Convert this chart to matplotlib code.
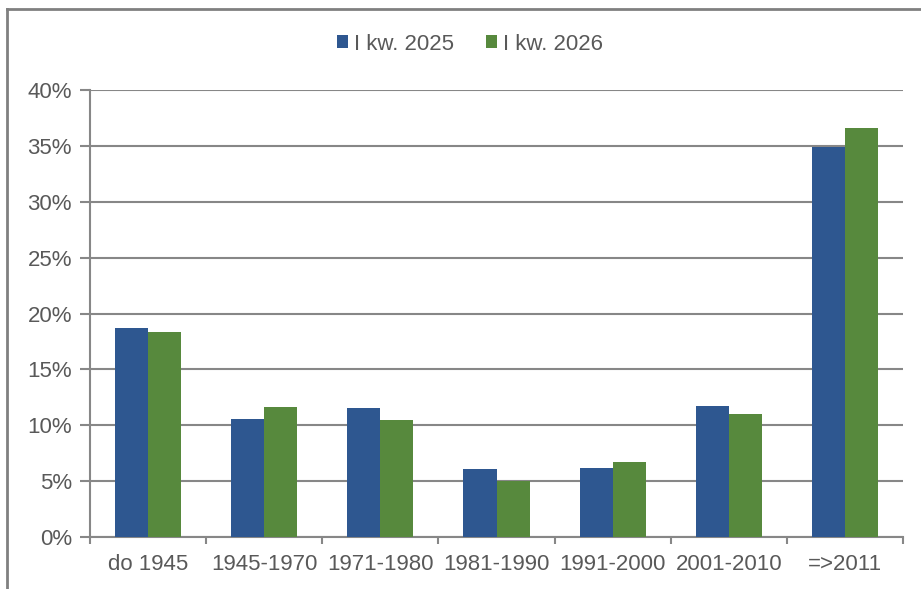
import numpy as np
import matplotlib.pyplot as plt
from matplotlib.lines import Line2D
from matplotlib.ticker import FuncFormatter, FixedLocator

plt.rcParams['font.family'] = ['Liberation Sans', 'DejaVu Sans']

categories = ['do 1945', '1945-1970', '1971-1980', '1981-1990', '1991-2000', '2001-2010', '=>2011']
q1_2025 = [18.7, 10.6, 11.5, 6.1, 6.2, 11.7, 34.9]
q1_2026 = [18.3, 11.6, 10.5, 5.0, 6.7, 11.0, 36.6]
series_names = ['I kw. 2025', 'I kw. 2026']

blue = '#2E5790'
green = '#57893D'
grey = '#878787'
text_col = '#595959'
fs = 16

fig = plt.figure(figsize=(9.21, 5.89), dpi=100)
ax = fig.add_axes([90 / 921, 1 - 537 / 589, (903 - 90) / 921, (537 - 90) / 589])

x = np.arange(len(categories))
w = 0.285
ax.bar(x - w / 2, q1_2025, w, color=blue, label=series_names[0], zorder=3)
ax.bar(x + w / 2, q1_2026, w, color=green, label=series_names[1], zorder=3)

ax.set_xlim(-0.5, len(categories) - 0.5)
ax.set_ylim(0, 40)
ax.set_yticks(np.arange(0, 41, 5))
ax.yaxis.set_major_formatter(FuncFormatter(lambda v, p: f'{v:.0f}%'))
ax.yaxis.grid(True, color=grey, linewidth=1.5, zorder=0)

# category labels at centres, tick marks at boundaries
ax.set_xticks(x)
ax.set_xticklabels(categories)
ax.xaxis.set_minor_locator(FixedLocator(np.arange(-0.5, len(categories), 1)))
ax.tick_params(axis='x', which='major', length=0, pad=12, labelsize=fs, labelcolor=text_col)
ax.tick_params(axis='x', which='minor', length=5, width=1.5, color=grey)
ax.tick_params(axis='y', length=7, width=1.5, color=grey, pad=6, labelsize=fs, labelcolor=text_col)

for s in ['top', 'right']:
    ax.spines[s].set_visible(False)
for s in ['left', 'bottom']:
    ax.spines[s].set_color(grey)
    ax.spines[s].set_linewidth(1.5)

leg = fig.legend(loc='center', bbox_to_anchor=(470 / 921, 1 - 44 / 589), ncol=2, frameon=False,
                 fontsize=fs, handlelength=0.5, handleheight=0.5, handletextpad=0.3, columnspacing=1.4)
for t in leg.get_texts():
    t.set_color(text_col)

# outer chart frame (left and top edges)
fig.add_artist(Line2D([7 / 921, 7 / 921], [0, 1 - 9 / 589], color='#808080', linewidth=2))
fig.add_artist(Line2D([7 / 921, 1], [1 - 9 / 589, 1 - 9 / 589], color='#808080', linewidth=2))

fig.savefig('out.png', dpi=100)
